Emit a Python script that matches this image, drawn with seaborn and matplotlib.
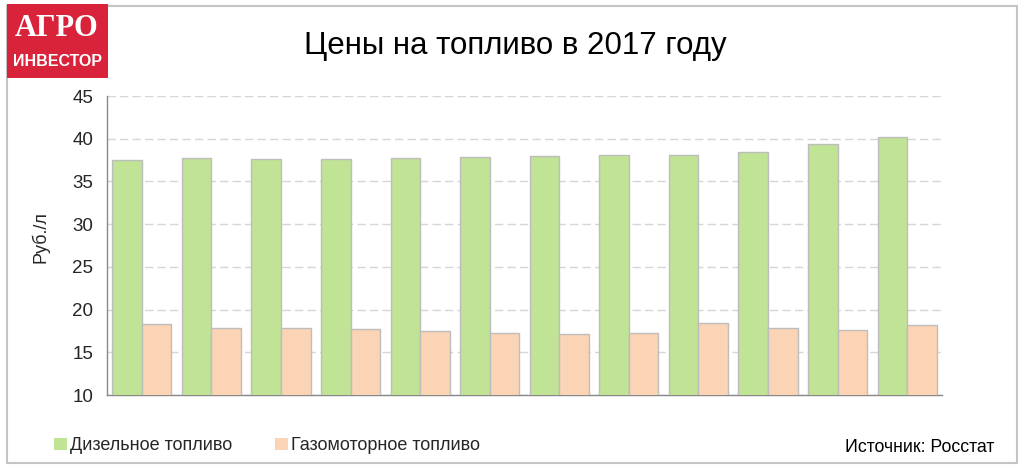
import matplotlib
matplotlib.use("Agg")
import matplotlib.pyplot as plt
import seaborn as sns
import pandas as pd
import numpy as np
from matplotlib.patches import Rectangle
from matplotlib import font_manager

months = ["Январь", "Февраль", "Март", "Апрель", "Май", "Июнь",
          "Июль", "Август", "Сентябрь", "Октябрь", "Ноябрь", "Декабрь"]
diesel = [37.5, 37.7, 37.6, 37.6, 37.7, 37.9, 38.0, 38.1, 38.1, 38.4, 39.4, 40.2]
gas = [18.3, 17.9, 17.8, 17.7, 17.5, 17.2, 17.1, 17.3, 18.4, 17.9, 17.6, 18.2]
series_names = ["Дизельное топливо", "Газомоторное топливо"]
yticks = [10, 15, 20, 25, 30, 35, 40, 45]

df = pd.DataFrame({
    "month": months * 2,
    "value": diesel + gas,
    "series": [series_names[0]] * 12 + [series_names[1]] * 12,
})

sns.set_style("white")
plt.rcParams["font.family"] = ["Liberation Sans", "DejaVu Sans"]

available = {f.name for f in font_manager.fontManager.ttflist}
narrow = "Liberation Sans Narrow" in available

W, H = 1024, 474
fig = plt.figure(figsize=(W / 100, H / 100), dpi=100)
ax = fig.add_axes([107 / W, (H - 395) / H, (942 - 107) / W, (395 - 96) / H])

palette = {series_names[0]: "#C0E395", series_names[1]: "#FAD4B4"}
sns.barplot(data=df, x="month", y="value", hue="series", hue_order=series_names,
            order=months, palette=palette, width=0.85, edgecolor="#BDBDBD",
            linewidth=1.0, saturation=1, ax=ax, zorder=3, legend=True)

ax.set_ylim(10, 45)
ax.set_xlim(-0.5, 11.5)
ax.set_yticks(yticks)
ax.set_yticklabels([str(t) for t in yticks], fontsize=13.5)
ax.set_xticks([])
ax.set_xticks(np.arange(-0.5, 12, 1), minor=True)
ax.tick_params(axis="x", which="minor", direction="out", length=5, color="#888888", width=1)
ax.tick_params(axis="y", direction="out", length=5, color="#888888", width=1, pad=5)
ax.set_xlabel("")
ax.set_ylabel("Руб./л", fontsize=13, labelpad=16)
ax.yaxis.label.set_y(0.527)
for s in ["top", "right"]:
    ax.spines[s].set_visible(False)
for s in ["left", "bottom"]:
    ax.spines[s].set_color("#888888")
    ax.spines[s].set_linewidth(1)
ax.yaxis.grid(True, linestyle=(0, (6, 3)), color="#D6D6D6", linewidth=1, zorder=0)
ax.set_axisbelow(True)

leg_fam = ["Liberation Sans Narrow", "Liberation Sans"] if narrow else ["Liberation Sans", "DejaVu Sans"]
leg_size = 15 if narrow else 13
sns.move_legend(ax, "center left", bbox_to_anchor=(54 / W, (H - 446) / H),
                bbox_transform=fig.transFigure, ncol=2, frameon=False, title=None,
                prop={"family": leg_fam, "size": leg_size},
                handlelength=0.72, handleheight=0.66, handletextpad=0.15,
                columnspacing=2.4, borderaxespad=0, borderpad=0)
leg = ax.get_legend()
for h in leg.legend_handles:
    h.set_edgecolor("none")

# frame
fig.patches.append(Rectangle((7 / W, (H - 463) / H), (1017 - 7) / W, (463 - 6) / H,
                             transform=fig.transFigure, fill=False,
                             edgecolor="#C4C4C4", linewidth=1.5, zorder=0))
# logo
fig.patches.append(Rectangle((7 / W, (H - 78) / H), (108 - 7) / W, (78 - 4) / H,
                             transform=fig.transFigure, facecolor="#D9233B",
                             edgecolor="none", zorder=5))
fig.text(57 / W, (H - 28) / H, "АГРО", color="white", fontsize=22, fontweight="bold",
         family=["Liberation Serif", "DejaVu Serif"], ha="center", va="center", zorder=6)
fig.text(57 / W, (H - 61) / H, "ИНВЕСТОР", color="white",
         fontsize=(19 if narrow else 11.5), fontweight="bold",
         family=(["Liberation Sans Narrow", "Liberation Sans"] if narrow else ["Liberation Sans", "DejaVu Sans"]),
         ha="center", va="center", zorder=6)

fig.text(515 / W, (H - 46) / H, "Цены на топливо в 2017 году", fontsize=22.5,
         ha="center", va="center", color="black")
fig.text(994 / W, (H - 452.5) / H, "Источник: Росстат",
         fontsize=(15 if narrow else 12.8),
         family=(["Liberation Sans Narrow", "Liberation Sans"] if narrow else ["Liberation Sans", "DejaVu Sans"]),
         ha="right", va="baseline", color="black")

fig.savefig("out.png", dpi=100)
